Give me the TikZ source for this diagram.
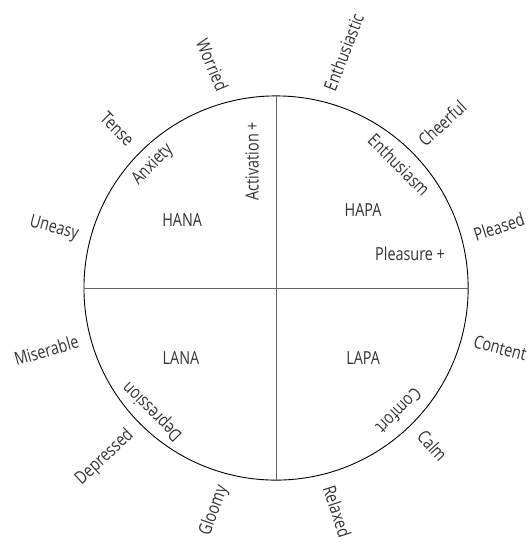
\documentclass[tikz,border=0pt]{standalone}
\usepackage{fontspec}
\setmainfont[FakeStretch=0.8]{Open Sans}
\tikzset{
  outerword/.style={inner sep=0pt, text=black!80, font=\fontsize{18}{18}\selectfont},
  innerword/.style={inner sep=0pt, text=black!80, font=\fontsize{18}{18}\selectfont},
  quadword/.style={inner sep=0pt, text=black!80, font=\fontsize{18}{18}\selectfont},
}
\begin{document}
\begin{tikzpicture}
		\useasboundingbox (-9.70,-9.03) rectangle (8.93,10.12);
		
		% Wheel
		\node[draw, circle, minimum size=13.5cm, inner sep=0pt, line width=0.9pt] (wheel) at (0,0) {};
		
		% Axes
		\draw[black!60, line width=0.8pt] (wheel.north) -- (wheel.south);
		\draw[black!60, line width=0.8pt] (wheel.west) -- (wheel.east);
		
		% Quadrants
		\node[quadword] (hana) at (-3.30,2.40) {HANA};
		\node[quadword] (hapa) at (3.06,2.74) {HAPA};
		\node[quadword] (lana) at (-3.34,-2.46) {LANA};
		\node[quadword] (lapa) at (3.06,-2.46) {LAPA};
		
		% Axis names
		\node[quadword, rotate=90] (activation) at (-0.84,4.46) {Activation +};
		\node[quadword] (pleasure) at (4.71,1.20) {Pleasure +};
		
		% Inner words
		\node[innerword, rotate=45] (anxiety) at (135:6.12) {Anxiety};
		\node[innerword, rotate=-45] (enthusiasm) at (45:6.12) {Enthusiasm};
		\node[innerword, rotate=135] (depression) at (-135:6.12) {Depression};
		\node[innerword, rotate=-135] (comfort) at (-45:6.12) {Comfort};
		
		% Outer words, right half
		\node[outerword, anchor=west, rotate=69] (enthusiastic) at (75:7.2) {Enthusiastic};
		\node[outerword, anchor=west, rotate=43] (cheerful) at (45:7.2) {Cheerful};
		\node[outerword, anchor=west, rotate=18] (pleased) at (15:7.2) {Pleased};
		\node[outerword, anchor=west, rotate=-15] (content) at (-15:7.2) {Content};
		\node[outerword, anchor=west, rotate=-48] (calm) at (-45:7.2) {Calm};
		\node[outerword, anchor=west, rotate=-72] (relaxed) at (-75:7.2) {Relaxed};
		
		% Outer words, left half
		\node[outerword, anchor=east, rotate=70] (gloomy) at (-105:7.2) {Gloomy};
		\node[outerword, anchor=east, rotate=43] (depressed) at (-135:7.2) {Depressed};
		\node[outerword, anchor=east, rotate=16] (miserable) at (-165:7.2) {Miserable};
		\node[outerword, anchor=east, rotate=-15] (uneasy) at (165:7.2) {Uneasy};
		\node[outerword, anchor=east, rotate=-45] (tense) at (135:7.2) {Tense};
		\node[outerword, anchor=east, rotate=-67] (worried) at (105:7.2) {Worried};
		
	\end{tikzpicture}
\end{document}
